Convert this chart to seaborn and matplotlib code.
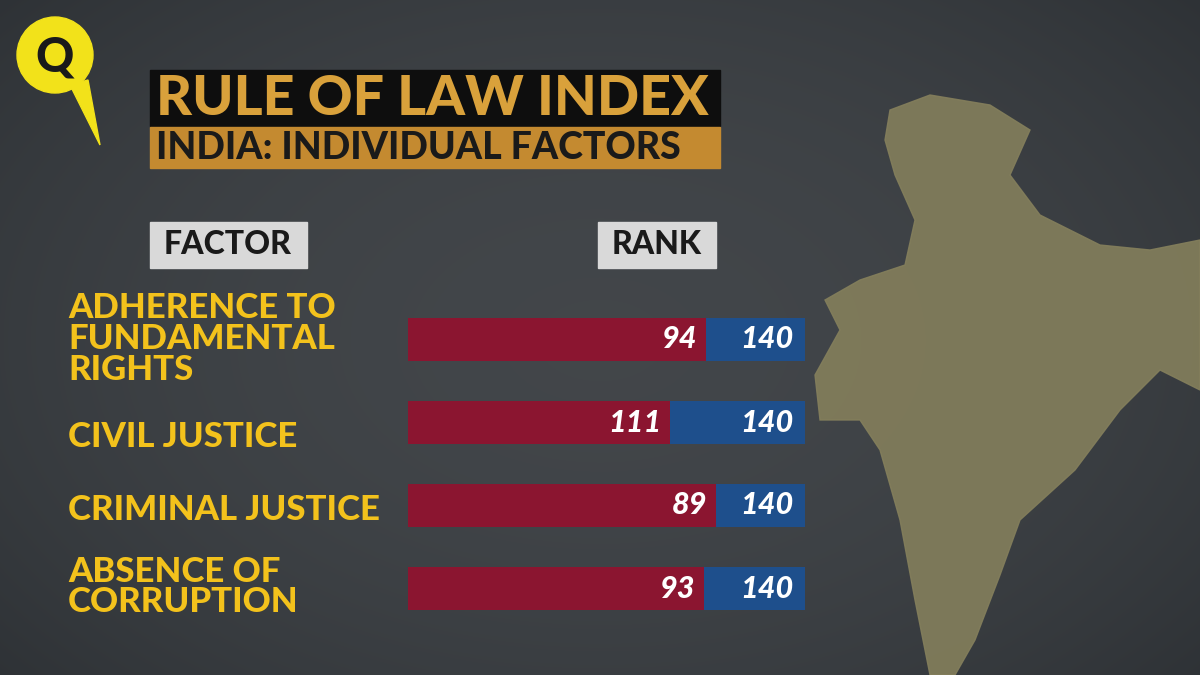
import matplotlib
matplotlib.use("Agg")
import matplotlib.pyplot as plt
import seaborn as sns
import numpy as np
import pandas as pd
from matplotlib.patches import Rectangle, Polygon, Circle

factors = ["ADHERENCE TO\nFUNDAMENTAL\nRIGHTS", "CIVIL JUSTICE", "CRIMINAL JUSTICE", "ABSENCE OF\nCORRUPTION"]
ranks = [94, 111, 89, 93]
total = [140, 140, 140, 140]
red_share = [0.75, 0.66, 0.775, 0.745]  # share of bar drawn red

sns.set_theme(style="white")
plt.rcParams['font.family'] = ['Lato', 'DejaVu Sans']

fig = plt.figure(figsize=(12, 6.75), dpi=100)
bg = fig.add_axes([0, 0, 1, 1])
yy, xx = np.mgrid[0:675, 0:1200]
g = 0.26 - 0.06 * (((xx - 600) / 700) ** 2 + ((yy - 340) / 450) ** 2)
bg.imshow(np.dstack([g, g + 0.015, g + 0.03]).clip(0, 1), extent=[0, 1200, 675, 0], aspect='auto')
bg.set_xlim(0, 1200); bg.set_ylim(675, 0); bg.axis('off')

india = [(890, 110), (930, 95), (990, 105), (1030, 130), (1010, 175), (1040, 215), (1100, 245),
         (1150, 250), (1200, 240), (1200, 390), (1160, 370), (1120, 410), (1075, 470),
         (1020, 520), (1000, 575), (975, 640), (955, 675), (930, 675), (915, 600), (900, 520),
         (880, 450), (860, 420), (820, 420), (815, 375), (840, 330), (825, 300), (860, 280),
         (905, 265), (915, 220), (895, 175), (885, 140)]
bg.add_patch(Polygon(india, closed=True, color="#847f5c", alpha=0.9, zorder=1))

bg.add_patch(Circle((55, 55), 38, color="#f2e21a", zorder=3))
bg.add_patch(Polygon([(70, 85), (100, 145), (88, 80)], color="#f2e21a", zorder=3))
bg.text(55, 57, "Q", color="#1a1a1a", fontsize=34, fontweight="black", ha="center", va="center", zorder=4)

bg.add_patch(Rectangle((150, 70), 570, 56, color="#0e0e0e", zorder=3))
bg.text(156, 99, "RULE OF LAW INDEX", color="#d9a13b", fontsize=40, fontweight="black", va="center", zorder=4)
bg.add_patch(Rectangle((150, 127), 570, 41, color="#c48a30", zorder=3))
bg.text(156, 148, "INDIA: INDIVIDUAL FACTORS", color="#1a1a1a", fontsize=27, fontweight="black", va="center", zorder=4)

bg.add_patch(Rectangle((150, 222), 157, 46, color="#d9d9d9", zorder=3))
bg.text(228, 245, "FACTOR", color="#1a1a1a", fontsize=23, fontweight="black", ha="center", va="center", zorder=4)
bg.add_patch(Rectangle((598, 222), 118, 46, color="#d9d9d9", zorder=3))
bg.text(657, 245, "RANK", color="#1a1a1a", fontsize=23, fontweight="black", ha="center", va="center", zorder=4)

ax = fig.add_axes([408 / 1200, 1 - 630 / 675, 397 / 1200, 332 / 675])
ax.patch.set_alpha(0)
df = pd.DataFrame({"factor": factors, "rank": ranks, "total": total, "share": red_share})
df["red"] = df["share"] * df["total"]
sns.barplot(data=df, y="factor", x="total", color="#1e4f8c", saturation=1, width=0.52, ax=ax,
            orient="h", linewidth=0)
sns.barplot(data=df, y="factor", x="red", color="#8b1530", saturation=1, width=0.52, ax=ax,
            orient="h", linewidth=0)
ax.set_xlim(0, 140)
ax.axis('off')
for i, r in df.iterrows():
    ax.text(r["red"] - 3, i, str(r["rank"]), color="white", fontsize=22, fontweight="black",
            style="italic", ha="right", va="center")
    ax.text(r["total"] - 4, i, str(r["total"]), color="white", fontsize=22, fontweight="black",
            style="italic", ha="right", va="center")

label_y = [339, 437, 510, 587]
for lab, y in zip(factors, label_y):
    bg.text(68, y, lab, color="#f3c21c", fontsize=25, fontweight="black", va="center",
            linespacing=0.95, zorder=4)

fig.savefig("out.png", dpi=100)
